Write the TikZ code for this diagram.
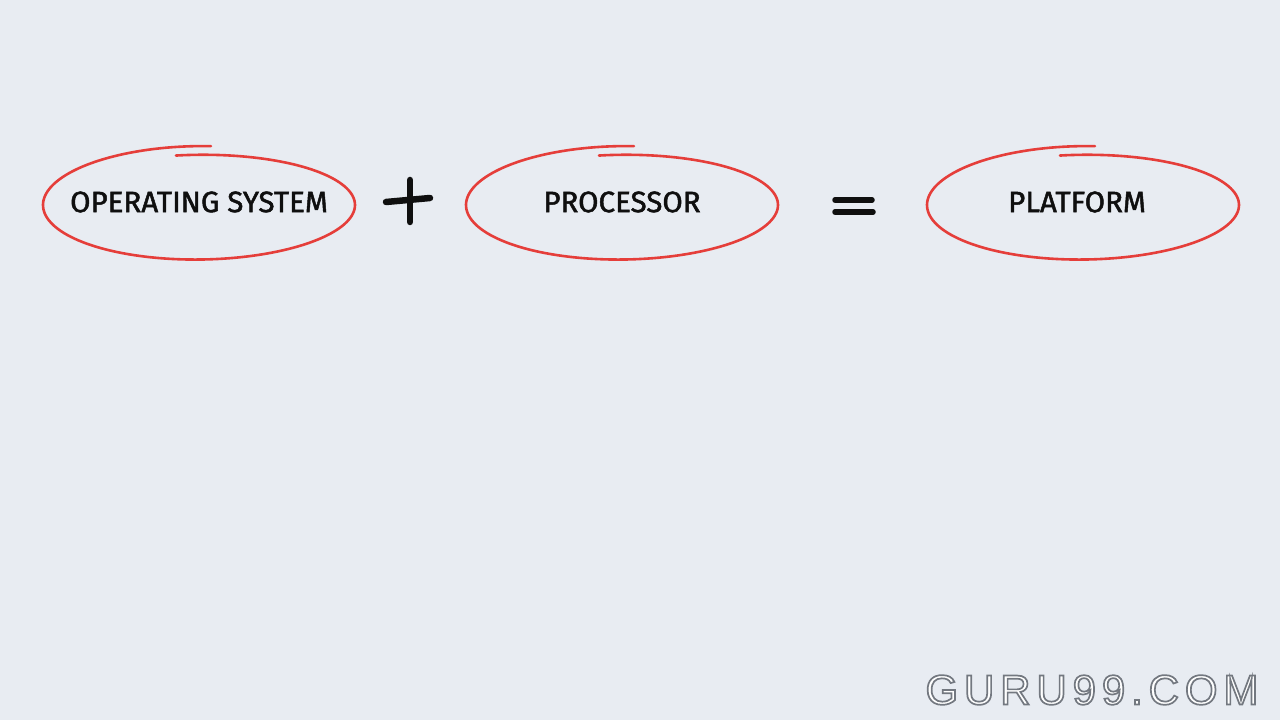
\documentclass[tikz,border=0pt]{standalone}
\usepackage{fontspec}
\setmainfont{Fira Sans}
\newfontfamily\inkfont[FakeBold=1.6]{Fira Sans}
\newfontfamily\brandfont[LetterSpace=14]{Liberation Sans}
\definecolor{paper}{RGB}{232,236,242}
\definecolor{loopred}{RGB}{229,62,58}
\definecolor{inkblack}{RGB}{15,15,15}
\newcommand\embossed[1]{\special{pdf:literal direct 2 Tr 1.7 w 0.45 0.47 0.50 RG}#1\special{pdf:literal direct 0 Tr}}
\tikzset{
  loopline/.style={draw=loopred, line width=2.6pt, line cap=round},
  word/.style={font=\inkfont\fontsize{29.5}{30}\selectfont, text=inkblack, inner sep=0pt},
  signline/.style={draw=inkblack, line width=6.5pt, line cap=round},
  brandtext/.style={font=\brandfont\fontsize{42}{42}\selectfont, inner sep=0pt}
}
\begin{document}
\begin{tikzpicture}[x=1pt,y=1pt]
  \fill[paper] (0,0) rectangle (1280,720);
  % the three terms
  \node[word] (os) at (199,518) {OPERATING SYSTEM};
  \node[word] (cpu) at (622,518) {PROCESSOR};
  \node[word] (pf) at (1077,518) {PLATFORM};
  \coordinate (plus) at (408,519);
  \coordinate (eq) at (854,514);
  % hand drawn loops round the terms
  \foreach \n/\dx in {os/0,cpu/0,pf/6}
    \draw[loopline, shift={(\n)}, xshift=\dx] plot[domain=98.5:-274.4, samples=160, smooth]
      ({156*cos(\x)}, {-3+(50+9*(98.5-\x)/373)*sin(\x)});
  % plus and equals
  \draw[signline] (plus) ++(-22,-1) -- ++(44,4);
  \draw[signline] (plus) ++(2,21) -- ++(0,-42);
  \draw[signline, line width=5.5pt] (eq) ++(-19,6) -- ++(37,0);
  \draw[signline, line width=5.5pt] (eq) ++(-19,-6) -- ++(38,0);
  % embossed watermark
  \node[brandtext, text=white] (logo) at (1092,30) {\embossed{GURU99.COM}};
\end{tikzpicture}
\end{document}
